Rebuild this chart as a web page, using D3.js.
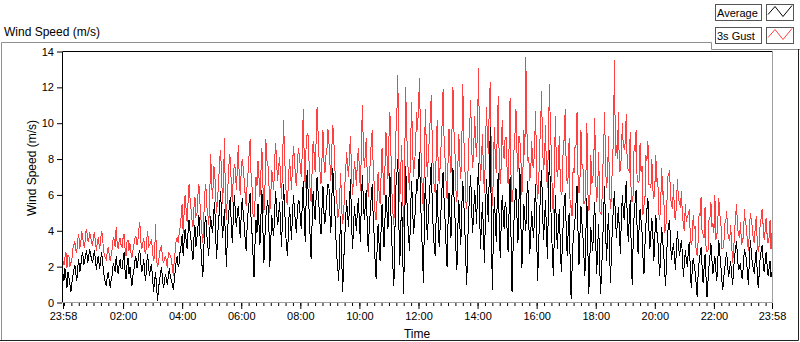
<!DOCTYPE html>
<html><head><meta charset="utf-8">
<script src="https://cdn.jsdelivr.net/npm/d3@7"></script>
<style>
body{margin:0;background:#fff;}
svg{display:block;font-family:"Liberation Sans",Arial,sans-serif;}
</style>
</head><body>
<svg id="chart" width="800" height="342"></svg>
<script>
// ---- data ----
const seriesNames = ["Average", "3s Gust"];
const seriesColors = ["#000000", "#ff4040"];
const tickLabels = ["23:58","02:00","04:00","06:00","08:00","10:00","12:00","14:00","16:00","18:00","20:00","22:00","23:58"];
const yTicks = [0, 2, 4, 6, 8, 10, 12, 14];
const sampleMinutes = 2; // one sample every 2 minutes from 23:58 to 23:58 (one row per hour)
const avgSpeed = [
 1.6,1.2,1.9,1.4,0.8,1.7,1.4,1.0,0.6,1.1,1.5,1.8,2.1,1.6,1.2,2.0,2.4,1.7,2.0,2.6,2.8,2.1,2.3,2.7,2.9,2.2,2.5,3.0,2.7,2.4,
 2.2,2.6,2.9,2.3,1.8,2.4,2.6,1.9,2.1,2.8,2.5,1.8,1.4,1.1,0.9,1.5,1.7,1.2,0.8,1.3,1.5,2.2,2.0,1.7,2.6,2.0,1.6,2.1,2.4,1.9,
 1.9,2.4,2.8,1.8,1.3,2.1,2.5,1.6,2.0,1.4,0.9,1.5,1.8,2.3,2.6,1.9,2.2,2.7,2.9,2.2,1.7,2.0,2.4,1.6,1.2,2.2,2.7,1.9,1.5,2.0,
 2.1,1.3,0.6,1.2,1.7,0.9,0.1,0.8,1.2,1.6,2.0,1.3,0.8,1.1,1.6,1.3,1.0,1.5,1.9,1.4,1.3,1.0,0.7,1.2,1.8,2.3,2.6,2.0,2.2,2.9,
 3.2,3.8,2.6,3.4,4.1,3.5,3.0,3.9,4.6,4.0,3.5,2.9,2.4,3.6,4.3,3.1,3.6,4.2,4.9,3.8,3.1,2.2,1.4,3.0,4.4,4.8,3.8,3.2,2.6,4.0,
 4.8,4.2,3.9,5.0,5.6,3.8,2.4,3.7,4.5,5.3,6.2,4.9,3.6,4.4,5.2,3.4,2.0,3.9,4.7,5.5,5.9,4.1,3.3,4.8,6.0,5.1,4.2,4.9,5.4,4.6,
 3.6,4.9,5.8,5.0,4.4,3.5,2.9,4.2,5.1,5.6,6.1,4.7,3.8,2.6,1.4,3.3,4.6,3.9,5.5,4.4,3.2,4.8,6.3,4.1,2.2,3.6,4.8,5.3,5.7,4.5,
 2.0,3.4,4.9,4.1,3.7,5.2,6.2,5.0,4.3,4.9,5.6,4.2,3.1,5.0,6.6,5.4,4.0,3.1,2.6,4.2,5.3,4.6,3.5,4.8,6.0,5.2,4.5,3.9,5.1,5.7,
 5.6,4.7,4.1,5.5,6.8,4.8,3.4,5.9,7.4,6.1,5.0,3.6,2.4,4.5,6.2,5.3,4.6,5.8,7.0,6.2,5.3,4.4,3.8,5.2,6.5,5.0,4.4,5.1,5.9,6.6,
 6.6,5.0,3.9,5.8,7.5,6.2,5.1,3.8,2.6,2.0,1.2,3.4,4.8,2.5,0.6,2.2,3.5,4.6,5.7,4.9,4.2,5.6,6.9,4.5,3.0,4.1,5.4,4.6,4.0,5.2,
 5.8,4.5,3.4,5.6,7.1,5.8,4.6,5.5,6.3,4.3,2.8,4.1,5.0,5.9,6.6,4.8,3.7,2.2,1.3,3.0,4.4,3.2,2.3,4.0,5.5,4.2,3.1,4.7,6.0,5.1,
 4.1,5.8,7.2,5.0,3.3,2.0,0.9,3.8,6.4,7.1,8.0,4.6,2.1,4.2,5.6,2.6,0.5,4.4,7.6,6.0,4.7,3.6,2.9,5.1,6.8,5.3,3.8,4.6,5.2,6.9,
 6.2,7.5,8.4,5.9,4.3,2.7,1.1,4.6,7.0,5.1,3.5,4.8,5.8,6.9,7.8,5.5,4.0,3.1,2.6,4.9,6.6,4.4,3.1,4.2,5.3,6.5,7.3,5.7,4.6,3.2,
 2.0,4.4,6.1,4.8,3.6,5.9,7.5,6.0,4.9,3.0,1.8,4.2,5.7,4.3,3.2,5.4,6.8,5.6,4.2,2.4,1.0,3.3,5.0,6.2,7.1,5.2,3.9,5.0,6.3,5.5,
 4.4,6.3,7.8,5.1,3.0,4.5,5.6,3.8,2.2,4.9,6.9,5.5,4.5,7.6,9.8,4.2,0.7,3.6,5.9,4.6,3.4,5.8,7.2,4.4,2.5,4.3,6.0,5.0,4.1,5.6,
 5.3,4.0,2.8,5.1,7.0,3.5,0.6,2.9,4.6,5.7,6.4,4.8,3.3,5.6,7.5,4.4,1.9,3.8,5.5,4.7,4.0,5.9,6.8,4.5,2.7,3.9,5.1,4.2,3.6,5.4,
 6.6,3.8,1.2,3.1,4.8,6.3,7.4,5.2,3.5,4.6,5.7,3.9,2.4,5.8,8.5,6.0,4.3,2.6,1.5,3.9,6.0,4.5,3.0,4.3,5.2,3.3,1.7,3.0,4.5,5.6,
 6.1,4.2,2.6,3.9,5.0,2.4,0.2,1.9,3.4,4.1,4.7,5.6,6.5,4.0,2.1,3.8,5.4,4.4,3.7,2.6,1.5,3.9,5.8,3.0,0.5,2.4,4.2,3.5,2.9,4.6,
 5.6,3.4,1.6,3.2,4.4,2.0,0.5,1.9,3.2,5.0,6.5,4.1,2.3,3.8,5.0,3.0,1.1,2.9,4.3,5.4,6.2,4.8,3.6,4.5,5.3,4.0,2.7,4.6,6.0,5.1,
 4.6,5.9,6.8,4.8,3.4,4.6,5.7,3.2,1.0,3.3,4.9,5.6,6.3,4.2,2.7,4.1,5.2,4.6,3.9,2.5,1.6,3.2,4.4,5.2,5.8,4.1,3.0,3.9,4.7,3.8,
 2.3,3.7,4.9,4.0,3.6,2.4,1.5,3.0,4.2,3.4,2.8,1.7,0.9,2.6,3.9,4.3,4.6,3.3,2.4,2.9,3.3,2.5,1.8,3.1,4.0,3.2,2.6,3.0,3.5,2.7,
 1.4,2.2,2.9,2.4,2.0,2.8,3.4,1.9,0.8,1.8,2.5,2.1,1.7,1.0,0.3,1.6,2.3,2.7,3.1,2.0,1.1,1.9,2.7,1.4,0.3,1.2,2.0,2.6,3.3,2.4,
 1.6,2.1,2.6,1.8,1.2,2.4,3.5,2.7,2.1,1.3,0.7,1.4,1.9,2.4,2.8,2.0,1.4,1.9,2.3,1.6,1.0,1.8,2.6,3.0,3.4,2.5,1.8,2.0,2.2,1.5,
 1.3,2.2,3.0,2.7,2.4,1.7,1.0,2.3,3.5,2.8,2.2,1.9,1.6,2.4,2.9,1.7,0.8,1.6,2.5,2.9,3.2,2.4,1.7,2.2,2.8,2.1,1.5,1.9,2.3,1.4,
 1.7
];
const gustSpeed = [
 2.3,2.1,2.5,2.8,1.9,2.6,2.6,2.0,2.2,2.4,3.0,3.2,3.4,2.9,2.8,3.5,3.8,3.0,3.3,4.0,3.6,3.2,3.1,3.9,4.1,3.5,3.4,3.9,3.7,3.3,
 3.2,3.7,3.9,3.3,2.9,3.5,3.6,3.0,3.3,4.0,3.8,3.0,2.6,2.5,2.4,2.8,3.1,2.6,2.3,2.7,3.0,3.6,3.5,3.1,4.2,3.3,3.0,3.4,3.6,3.2,
 3.1,3.6,3.8,3.0,2.6,3.4,3.5,2.9,3.3,2.8,2.5,2.9,3.2,3.6,3.7,3.2,3.4,4.1,4.5,3.4,3.0,3.3,3.6,2.9,2.7,3.5,4.0,3.1,3.2,3.4,
 3.5,2.8,2.3,2.6,4.4,2.4,2.0,2.2,2.8,3.0,3.2,2.5,2.2,2.4,2.6,2.3,1.9,2.8,2.7,2.6,2.4,2.0,1.5,2.4,2.9,3.5,3.6,3.3,3.9,4.2,
 4.8,5.5,3.9,5.0,6.0,5.2,4.5,5.6,6.6,5.8,5.2,4.6,4.2,5.3,5.9,4.8,4.9,6.0,6.6,5.6,4.7,3.9,3.3,4.8,6.1,6.6,5.4,5.0,4.3,5.9,
 8.3,6.5,5.8,7.6,7.4,6.0,5.0,5.8,6.6,7.9,8.5,7.2,5.5,6.7,9.2,5.5,4.6,6.2,6.9,8.3,8.0,6.4,5.6,7.1,7.7,7.5,6.3,7.3,8.8,7.0,
 6.0,7.4,8.0,7.5,6.8,6.0,5.4,6.6,7.3,8.3,9.1,7.1,6.4,4.9,4.8,5.7,7.0,6.5,7.9,7.0,5.9,7.3,8.6,6.6,5.0,6.1,9.1,7.9,7.8,6.9,
 5.0,6.0,7.4,6.9,6.3,8.0,8.9,7.7,6.8,7.6,8.1,6.8,5.8,7.8,10.2,8.2,6.9,5.6,5.5,6.9,8.0,7.3,6.3,7.5,8.7,8.1,7.0,6.5,7.6,8.6,
 8.2,7.6,7.0,8.4,10.8,7.9,6.4,9.1,9.4,9.3,7.6,6.2,5.6,7.4,9.0,8.3,7.3,8.9,10.9,9.5,8.1,7.3,6.6,8.0,9.6,7.9,7.2,8.2,8.5,9.7,
 9.0,7.8,6.8,8.6,9.9,9.1,7.6,6.4,5.8,4.7,4.9,6.0,7.2,5.2,4.4,4.9,6.3,7.3,8.4,7.6,7.0,8.4,9.3,7.2,6.0,6.9,7.9,7.3,6.5,8.0,
 8.6,7.4,6.2,8.5,11.0,8.8,7.5,8.3,9.2,7.0,5.9,6.9,7.8,8.9,9.6,7.6,6.6,4.8,4.6,5.8,7.3,6.1,5.5,7.0,8.6,7.2,6.0,7.6,9.5,8.2,
 6.9,9.2,10.6,8.4,6.2,5.0,4.3,7.1,9.4,10.4,12.7,8.0,5.6,7.5,8.8,5.9,4.2,7.8,12.0,9.6,7.9,6.9,6.3,8.6,11.2,8.7,7.0,7.9,8.4,10.6,
 9.6,10.9,12.5,9.3,7.6,6.0,5.1,8.1,10.8,8.6,7.0,8.2,9.1,10.4,11.6,8.9,7.4,6.4,6.1,8.3,10.2,7.7,6.6,7.6,8.8,10.0,11.9,9.1,8.0,6.7,
 5.8,7.8,9.7,8.2,7.2,9.5,12.0,9.6,8.5,6.3,5.6,7.6,9.4,7.7,6.9,8.9,12.2,9.2,7.8,5.7,5.2,6.7,8.9,9.8,11.3,8.6,7.5,8.4,10.4,9.0,
 8.1,9.9,13.1,8.6,6.8,8.0,9.4,7.2,6.1,8.4,10.9,9.1,8.3,11.4,12.3,7.7,5.4,6.9,9.8,8.1,7.2,9.4,11.5,7.8,6.6,7.6,10.2,8.5,8.0,9.2,
 9.2,7.4,6.6,8.7,11.4,6.9,5.6,6.3,8.5,9.4,10.8,8.4,7.3,9.3,9.0,8.0,6.0,7.2,9.6,8.2,13.7,9.8,7.9,8.1,6.8,7.3,9.0,7.7,7.5,9.0,
 10.7,7.0,5.8,6.4,8.6,9.8,11.8,8.6,7.4,7.9,9.9,7.1,6.4,9.3,12.2,9.5,8.3,5.6,5.0,7.2,10.4,7.8,7.0,7.6,9.3,6.7,6.0,6.2,8.8,9.1,
 10.8,7.6,6.6,7.0,9.2,5.3,5.4,4.8,7.5,7.2,8.7,8.8,10.6,7.1,6.1,6.9,9.6,7.7,7.6,5.5,5.5,7.0,10.0,6.2,5.1,5.4,8.2,6.6,6.8,7.9,
 10.3,6.8,5.6,6.4,8.4,5.1,5.0,4.9,7.2,8.6,10.6,7.5,6.4,7.0,9.3,6.3,5.2,6.0,8.0,9.0,13.5,8.2,8.8,8.0,10.6,7.3,7.4,8.1,10.0,8.7,
 8.6,8.9,10.5,7.6,7.4,7.3,9.5,5.8,5.6,6.0,8.8,8.4,9.6,6.9,6.7,6.8,8.9,7.3,7.6,4.9,5.4,5.8,8.2,7.9,9.0,6.6,6.6,6.4,8.0,6.3,
 5.8,6.4,8.2,6.8,6.9,5.0,4.6,5.6,7.5,6.0,6.2,3.9,4.1,4.9,7.0,7.1,7.4,5.9,5.4,5.2,6.6,4.8,4.6,5.5,6.9,5.7,5.6,5.3,6.2,4.9,
 4.3,4.0,5.5,4.5,4.8,4.9,5.2,3.8,3.2,3.5,4.9,4.1,4.2,2.8,2.6,3.4,5.0,4.8,5.9,3.9,3.8,3.6,5.3,3.1,2.8,2.9,4.6,4.7,5.6,4.2,
 4.4,3.9,6.0,3.5,3.7,4.6,5.8,4.9,4.6,3.0,3.0,3.1,4.4,4.5,5.1,3.9,3.6,3.5,4.3,3.3,2.2,2.9,3.9,4.8,5.5,4.2,3.8,3.6,4.5,3.2,
 3.4,3.7,5.2,4.4,4.3,3.4,2.9,3.9,5.0,4.6,4.2,3.5,3.3,4.2,4.8,3.4,2.8,3.2,4.4,4.7,5.2,4.3,3.5,4.0,4.7,3.8,3.3,3.6,4.6,3.0,
 3.9
];

// ---- chart ----
const svg = d3.select("#chart");
svg.append("rect").attr("width",800).attr("height",342).attr("fill","#fff");

const start = new Date(Date.UTC(2000,0,1,23,58));
const end = new Date(Date.UTC(2000,0,2,23,58));
const plot = {left:62.5, right:772.5, top:51.5, bottom:302.5};

const x = d3.scaleUtc().domain([start,end]).range([63, 772]);
const y = d3.scaleLinear().domain([0,14]).range([302.5, 51.5]);

const timeOf = i => new Date(start.getTime() + i*sampleMinutes*60000);

const majorTimes = tickLabels.map((lab,i) => {
  if (i === 0) return start;
  if (i === tickLabels.length-1) return end;
  const [h,m] = lab.split(":").map(Number);
  return new Date(Date.UTC(2000,0,2,h,m));
});
const minorTimes = d3.utcMinute.every(15).range(start, end);

// outer frame
const frameGray = "#8f8f8f";
svg.append("path").attr("d","M1.5,341 V42.5 H711.5 V49.5 H800")
  .attr("fill","none").attr("stroke",frameGray);
svg.append("path").attr("d","M0,340.5 H798.5 V49")
  .attr("fill","none").attr("stroke","#222");

// title
svg.append("text").attr("x",4).attr("y",36).attr("font-size",12).attr("fill","#000").text("Wind Speed (m/s)");

// clip
svg.append("clipPath").attr("id","clip").append("rect")
  .attr("x",plot.left).attr("y",plot.top).attr("width",plot.right-plot.left).attr("height",plot.bottom-plot.top+1);

const line = d3.line().x((d,i)=>x(timeOf(i))).y(d=>y(d));
const g = svg.append("g").attr("clip-path","url(#clip)");
g.append("path").datum(gustSpeed).attr("d",line).attr("fill","none")
  .attr("stroke",seriesColors[1]).attr("stroke-width",1).attr("shape-rendering","crispEdges");
g.append("path").datum(avgSpeed).attr("d",line).attr("fill","none")
  .attr("stroke",seriesColors[0]).attr("stroke-width",1).attr("shape-rendering","crispEdges");

// plot border
svg.append("path").attr("d",`M${plot.left},${plot.bottom} V${plot.top} H${plot.right}`)
  .attr("fill","none").attr("stroke","#000");
svg.append("path").attr("d",`M${plot.right},${plot.top} V${plot.bottom} H${plot.left}`)
  .attr("fill","none").attr("stroke","#a0a0a0");

// y axis
const yAxis = svg.append("g").attr("transform","translate(62,0)")
  .call(d3.axisLeft(y).tickValues(yTicks).tickSize(5).tickPadding(3).tickFormat(d3.format("d")));
yAxis.select(".domain").remove();
yAxis.selectAll("text").attr("font-size",11).attr("font-family","Liberation Sans, Arial, sans-serif").attr("fill","#000");
yAxis.selectAll("line").attr("stroke","#000");

// x axis: minor ticks
const xMinor = svg.append("g").attr("transform","translate(0,303)")
  .call(d3.axisBottom(x).tickValues(minorTimes).tickSize(3).tickFormat(""));
xMinor.select(".domain").remove();
xMinor.selectAll("line").attr("stroke","#000");
// major ticks
const xMajor = svg.append("g").attr("transform","translate(0,303)")
  .call(d3.axisBottom(x).tickValues(majorTimes).tickSize(6).tickPadding(3).tickFormat((d,i)=>tickLabels[i]));
xMajor.select(".domain").remove();
xMajor.selectAll("line").attr("stroke","#000");
xMajor.selectAll("text").attr("font-size",11).attr("font-family","Liberation Sans, Arial, sans-serif").attr("fill","#000");

// axis titles
svg.append("text").attr("x",417).attr("y",338).attr("text-anchor","middle").attr("font-size",12).attr("fill","#000").text("Time");
svg.append("text").attr("transform","translate(36,168) rotate(-90)").attr("text-anchor","middle")
  .attr("font-size",12).attr("fill","#000").text("Wind Speed (m/s)");

// legend
const legend = svg.append("g");
seriesNames.forEach((name,i) => {
  const y0 = 4.5 + i*23;
  legend.append("rect").attr("x",715.5).attr("y",y0).attr("width",46).attr("height",16)
    .attr("fill","#fff").attr("stroke","#555");
  legend.append("text").attr("x",717).attr("y",y0+12.5).attr("font-size",11).attr("fill","#000").text(name);
  legend.append("rect").attr("x",766.5).attr("y",y0).attr("width",27).attr("height",16)
    .attr("fill","#fff").attr("stroke","#555");
  legend.append("path").attr("d",`M768,${y0+10} L775,${y0+2} L783,${y0+12} L792,${y0+1}`)
    .attr("fill","none").attr("stroke",seriesColors[i]);
});
</script>
</body></html>
